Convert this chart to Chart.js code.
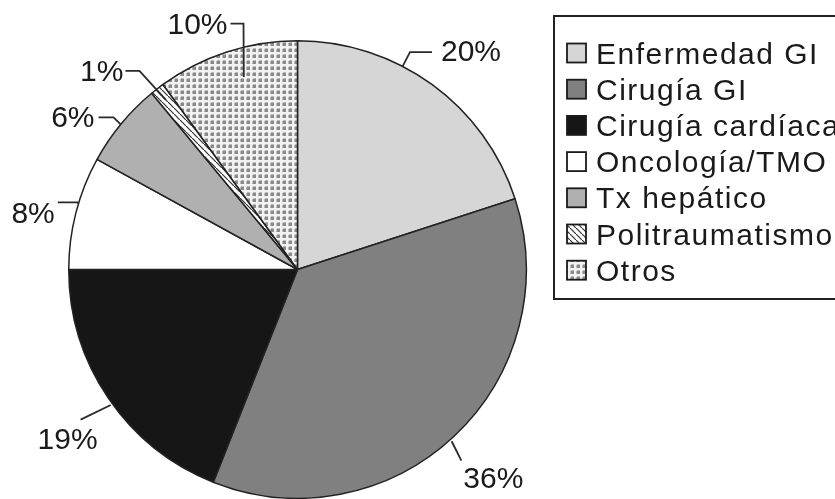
<!DOCTYPE html>
<html>
<head>
<meta charset="utf-8">
<script src="https://cdn.jsdelivr.net/npm/chart.js@4/dist/chart.umd.min.js"></script>
<style>
  html, body { margin: 0; padding: 0; background: #ffffff; }
  #wrap { width: 835px; height: 499px; position: relative; overflow: hidden; }
</style>
</head>
<body>
<div id="wrap"><canvas id="c" width="835" height="499"></canvas></div>
<script>
// ---- data ----
const categories = ['Enfermedad GI', 'Cirugía GI', 'Cirugía cardíaca', 'Oncología/TMO', 'Tx hepático', 'Politraumatismo', 'Otros'];
const values = [20, 36, 19, 8, 6, 1, 10];
const percentLabels = ['20%', '36%', '19%', '8%', '6%', '1%', '10%'];

// ---- styles ----
function makeDots() {
  const p = document.createElement('canvas');
  p.width = 6; p.height = 6;
  const g = p.getContext('2d');
  g.fillStyle = '#f2f2f2'; g.fillRect(0, 0, 6, 6);
  g.fillStyle = '#8a8a8a'; g.fillRect(1, 1, 3, 3);
  g.fillStyle = '#b8b8b8'; g.fillRect(0, 1, 1, 3); g.fillRect(1, 0, 3, 1);
  return g.createPattern(p, 'repeat');
}
function makeLines() {
  const p = document.createElement('canvas');
  p.width = 6; p.height = 6;
  const g = p.getContext('2d');
  g.fillStyle = '#ffffff'; g.fillRect(0, 0, 6, 6);
  g.strokeStyle = '#333333'; g.lineWidth = 1.2;
  g.beginPath(); g.moveTo(0, 0); g.lineTo(6, 6); g.stroke();
  return g.createPattern(p, 'repeat');
}
const fills = ['#d6d6d6', '#808080', '#161616', '#ffffff', '#b0b0b0', makeLines(), makeDots()];

// leader-line layout per slice: start (fraction in slice, radius offset), elbow, horizontal run, text offset
const leaders = [
  { f0: 0.38, r0: 0,   f1: 0.38, r1: 16, h: 22,  align: 'left',  tx: 9,  ty: 0 },
  { f0: 0.51, r0: 2,   f1: 0.52, r1: 23, h: 0,   align: 'left',  tx: 2,  ty: 18 },
  { f0: 0.474, r0: 2,  f1: 0.493, r1: 35, h: 0,  align: 'right', tx: 17, ty: 20 },
  { f0: 0.58, r0: 0,   f1: 0.59, r1: 1,  h: -20, align: 'right', tx: -3, ty: 11 },
  { f0: 0.49, r0: 0,   f1: 0.50, r1: 10, h: -15, align: 'right', tx: -4, ty: 0 },
  { f0: 0.5,  r0: -14, f1: 0.3,  r1: 25, h: -14, align: 'right', tx: -2, ty: 1 },
  { f0: 0.567, r0: -29, f1: 0.656, r1: 23, h: -13, align: 'right', tx: -3, ty: 1 }
];

const labelPlugin = {
  id: 'leaderLabels',
  afterDatasetsDraw(chart) {
    const ctx = chart.ctx;
    const meta = chart.getDatasetMeta(0);
    ctx.save();
    ctx.strokeStyle = '#2a2a2a';
    ctx.lineWidth = 1.8;
    ctx.fillStyle = '#1a1a1a';
    ctx.font = '30px "Liberation Sans", Arial, sans-serif';
    ctx.textBaseline = 'middle';
    meta.data.forEach((arc, i) => {
      const p = arc.getProps(['x', 'y', 'startAngle', 'endAngle', 'outerRadius'], true);
      const L = leaders[i];
      const a0 = p.startAngle + (p.endAngle - p.startAngle) * L.f0;
      const a1 = p.startAngle + (p.endAngle - p.startAngle) * L.f1;
      const sx = p.x + (p.outerRadius + L.r0) * Math.cos(a0);
      const sy = p.y + (p.outerRadius + L.r0) * Math.sin(a0);
      const ex = p.x + (p.outerRadius + L.r1) * Math.cos(a1);
      const ey = p.y + (p.outerRadius + L.r1) * Math.sin(a1);
      ctx.beginPath();
      ctx.moveTo(sx, sy);
      ctx.lineTo(ex, ey);
      if (L.h) ctx.lineTo(ex + L.h, ey);
      ctx.stroke();
      ctx.textAlign = L.align;
      ctx.fillText(percentLabels[i], ex + L.h + L.tx, ey + L.ty + 1);
    });
    ctx.restore();
  }
};

const legendPlugin = {
  id: 'boxLegend',
  afterDraw(chart) {
    const ctx = chart.ctx;
    const ds = chart.data.datasets[0];
    ctx.save();
    ctx.strokeStyle = '#222222';
    ctx.lineWidth = 2;
    ctx.strokeRect(554, 16, 300, 283);
    ctx.font = '30px "Liberation Sans", Arial, sans-serif';
    ctx.letterSpacing = '1.5px';
    ctx.textAlign = 'left';
    ctx.textBaseline = 'alphabetic';
    chart.data.labels.forEach((lab, i) => {
      const cy = 53 + i * 36.2;
      ctx.fillStyle = ds.backgroundColor[i];
      ctx.fillRect(567, cy - 9.5, 19, 19);
      ctx.lineWidth = 1.8;
      ctx.strokeStyle = '#1a1a1a';
      ctx.strokeRect(567, cy - 9.5, 19, 19);
      ctx.fillStyle = '#1a1a1a';
      ctx.fillText(lab, 596, cy + 10.5);
    });
    ctx.restore();
  }
};

new Chart(document.getElementById('c'), {
  type: 'pie',
  data: {
    labels: categories,
    datasets: [{
      data: values,
      backgroundColor: fills,
      borderColor: '#222222',
      borderWidth: 1.5
    }]
  },
  options: {
    responsive: false,
    animation: false,
    events: [],
    layout: { padding: { left: 68, top: 40, right: 308, bottom: 0 } },
    plugins: {
      legend: { display: false },
      tooltip: { enabled: false }
    }
  },
  plugins: [labelPlugin, legendPlugin]
});
</script>
</body>
</html>
